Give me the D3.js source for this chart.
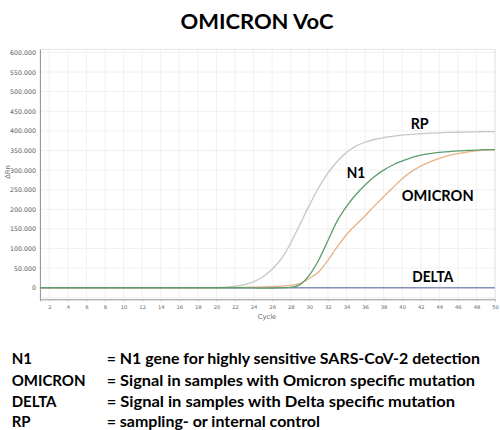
<!DOCTYPE html>
<html><head><meta charset="utf-8">
<script src="https://cdn.jsdelivr.net/npm/d3@7"></script>
<style>body{margin:0;background:#fff}svg{display:block}</style>
</head><body>
<svg id="c" width="500" height="430"></svg>
<script>
const cycles = d3.range(1, 51);
const rp = [0,0,0,0,0,0,0,0,0,0,0,0,0,0,0,0,0,0,0,0.5,1.5,4,8,15,28,47,74,114,162,210,255,292,322,345,361,371,378,383,386,389,391,393,394,395,396,396.5,397,397.5,398,398].map(v=>v*1000);
const n1 = [0,0,0,0,0,0,0,0,0,0,0,0,0,0,0,0,0,0,0,0,0,0,0,-0.5,-1,-1,0,1,8,32,70,120,170,207,237,262,283,300,313,323,332,338,342,345,347,349,350,351,352,352].map(v=>v*1000);
const omicron = [0,0,0,0,0,0,0,0,0,0,0,0,0,0,0,0,0,0,0,0.3,0.5,0.8,1,1.5,2,3,4,6,11,24,40,70,104,135,160,183,208,232,255,278,296,310,321,330,337,342,346,349,351,352].map(v=>v*1000);
const delta = cycles.map(()=>0);
const yTicks = [0,50000,100000,150000,200000,250000,300000,350000,400000,450000,500000,550000,600000];
const xTicks = d3.range(2, 51, 2);
const seriesNames = ["RP","N1","OMICRON","DELTA"];
const legendKeys = ["N1","OMICRON","DELTA","RP"];
const legendTexts = ["= N1 gene for highly sensitive SARS-CoV-2 detection","= Signal in samples with Omicron specific mutation","= Signal in samples  with Delta specific mutation","= sampling- or internal control"];

const svg = d3.select("#c");
const x = d3.scaleLinear().domain([1,50]).range([40,495]);
const y = d3.scaleLinear().domain([-29500,608000]).range([299.3,49.3]);
const font = "Lato, 'Open Sans', sans-serif";

// title
svg.append("text").attr("x",257).attr("y",29).attr("text-anchor","middle")
  .attr("font-family",font).attr("font-weight","bold").attr("font-size",21)
  .attr("textLength",153).attr("lengthAdjust","spacingAndGlyphs").text("OMICRON VoC");

// grid
const g = svg.append("g");
g.selectAll(".hg").data(yTicks.concat([-25000])).enter().append("line")
  .attr("x1",40).attr("x2",495).attr("y1",d=>y(d)).attr("y2",d=>y(d))
  .attr("stroke","#ececec").attr("stroke-width",0.8);
g.selectAll(".vg").data(xTicks).enter().append("line")
  .attr("y1",49.3).attr("y2",299.3).attr("x1",d=>x(d)).attr("x2",d=>x(d))
  .attr("stroke","#ececec").attr("stroke-width",0.8);
g.append("rect").attr("x",40).attr("y",49.3).attr("width",455).attr("height",250)
  .attr("fill","none").attr("stroke","#e2e2e2").attr("stroke-width",0.8);

// axes
const ya = svg.append("g").attr("transform","translate(40,0)")
  .call(d3.axisLeft(y).tickValues(yTicks).tickSize(0).tickPadding(4)
    .tickFormat(d=>d3.format(",")(d).replace(/,/g,".")));
ya.select(".domain").attr("stroke","#999");
ya.selectAll("text").attr("font-family","'DejaVu Sans', sans-serif").attr("font-size",6.3).attr("fill","#555");
const xa = svg.append("g").attr("transform","translate(0,299.3)")
  .call(d3.axisBottom(x).tickValues(xTicks).tickSize(2).tickPadding(4));
xa.select(".domain").attr("stroke","#999");
xa.selectAll("line").attr("stroke","#bbb");
xa.selectAll("text").attr("font-family","'DejaVu Sans', sans-serif").attr("font-size",5.2).attr("fill","#666");

svg.append("text").attr("x",267).attr("y",319).attr("text-anchor","middle")
  .attr("font-family","'DejaVu Sans', sans-serif").attr("font-size",6.8).attr("fill","#666").text("Cycle");
svg.append("text").attr("transform","translate(10,172) rotate(-90)").attr("text-anchor","middle")
  .attr("font-family","'DejaVu Sans', sans-serif").attr("font-size",6.8).attr("fill","#666").text("ΔRn");

// lines
const line = d3.line().x((d,i)=>x(cycles[i])).y(d=>y(d)).curve(d3.curveMonotoneX);
const series = [
  {name:"DELTA", v:delta, c:"#8393b3"},
  {name:"RP", v:rp, c:"#c6c6c6"},
  {name:"OMICRON", v:omicron, c:"#e8b283"},
  {name:"N1", v:n1, c:"#5e9d6c"}
];
svg.append("g").selectAll("path").data(series).enter().append("path")
  .attr("d",d=>line(d.v)).attr("fill","none").attr("stroke",d=>d.c).attr("stroke-width",1.3);

// in-chart labels
const labs = [
  {t:"RP", x:410.7, y:129, w:18},
  {t:"N1", x:346.7, y:178.3, w:18.5},
  {t:"OMICRON", x:401.7, y:200.7, w:72},
  {t:"DELTA", x:412.3, y:282.3, w:41}
];
svg.append("g").selectAll("text").data(labs).enter().append("text")
  .attr("x",d=>d.x).attr("y",d=>d.y).attr("font-family",font).attr("font-weight","bold")
  .attr("font-size",15).attr("textLength",d=>d.w).attr("lengthAdjust","spacingAndGlyphs").text(d=>d.t);

// legend text
const base = [364,385.5,407,426.5];
const tw = [373.3, 368.3, 348.3, 213.3];
const lg = svg.append("g");
legendKeys.forEach((k,i)=>{
  lg.append("text").attr("x",11.7).attr("y",base[i]).attr("font-family",font).attr("font-weight","bold")
    .attr("font-size",15).text(k);
  lg.append("text").attr("x",106.7).attr("y",base[i]).attr("font-family",font).attr("font-weight","bold")
    .attr("font-size",15).attr("textLength",tw[i]).attr("lengthAdjust","spacingAndGlyphs").text(legendTexts[i]);
});
</script>
</body></html>
